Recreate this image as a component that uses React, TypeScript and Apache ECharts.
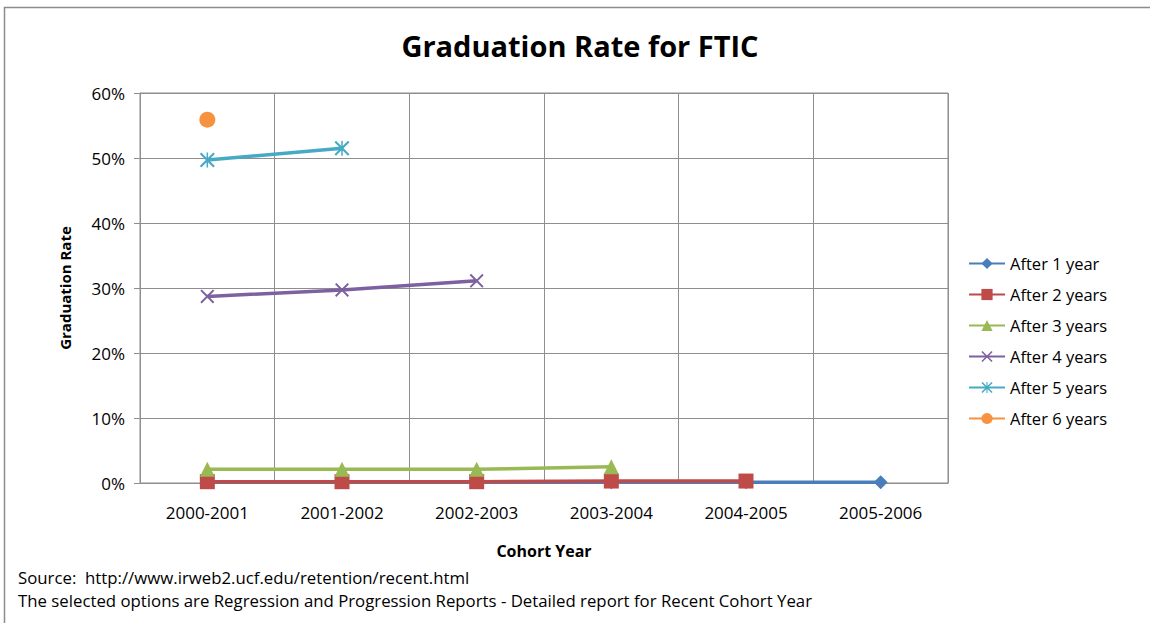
import React, { useEffect, useRef } from "react";
import * as echarts from "echarts";

// Cohort years on the category axis
const cohortYears = ["2000-2001", "2001-2002", "2002-2003", "2003-2004", "2004-2005", "2005-2006"];

// Graduation rate (%) for each cohort, by years elapsed
const after1Year = [0.1, 0.1, 0.1, 0.1, 0.1, 0.1];
const after2Years = [0.2, 0.2, 0.2, 0.3, 0.3, null];
const after3Years = [2.1, 2.1, 2.1, 2.5, null, null];
const after4Years = [28.7, 29.7, 31.1, null, null, null];
const after5Years = [49.7, 51.5, null, null, null, null];
const after6Years = [55.9, null, null, null, null, null];

const seriesNames = ["After 1 year", "After 2 years", "After 3 years", "After 4 years", "After 5 years", "After 6 years"];

const sourceLines = [
  "Source:  http://www.irweb2.ucf.edu/retention/recent.html",
  "The selected options are Regression and Progression Reports - Detailed report for Recent Cohort Year",
];

const FONT = "'Open Sans', 'Liberation Sans', sans-serif";

// thin "x" marker and asterisk marker (x plus vertical bar)
const CROSS_PATH =
  "path://M0,1 L1,0 L5,4 L9,0 L10,1 L6,5 L10,9 L9,10 L5,6 L1,10 L0,9 L4,5 Z";
const STAR_PATH =
  "path://M0,1 L1,0 L5,4 L9,0 L10,1 L6,5 L10,9 L9,10 L5,6 L1,10 L0,9 L4,5 Z M4.5,0 L5.5,0 L5.5,10 L4.5,10 Z";

export default function App() {
  const ref = useRef<HTMLDivElement>(null);

  useEffect(() => {
    if (!ref.current) return;
    const chart = echarts.init(ref.current, undefined, { renderer: "svg" });

    const lineSeries = (
      name: string,
      data: (number | null)[],
      color: string,
      symbol: string,
      symbolSize: number | number[]
    ) => ({
      name,
      type: "line",
      data,
      symbol,
      symbolSize,
      showSymbol: true,
      lineStyle: { color, width: 3.5 },
      itemStyle: { color, borderWidth: 0 },
      emphasis: { disabled: true },
      z: 3,
    });

    chart.setOption({
      animation: false,
      textStyle: { fontFamily: FONT },
      grid: {
        left: 140,
        top: 93,
        right: 202,
        bottom: 140,
        show: true,
        borderColor: "#8e8e8e",
        borderWidth: 1,
      },
      legend: {
        orient: "vertical",
        left: 968,
        top: 255,
        padding: 0,
        itemWidth: 36,
        itemHeight: 14,
        itemGap: 14,
        data: seriesNames,
        textStyle: { fontSize: 16.5, color: "#000", fontFamily: FONT },
      },
      xAxis: {
        type: "category",
        data: cohortYears,
        name: "Cohort Year",
        nameLocation: "middle",
        nameGap: 60,
        nameTextStyle: { fontSize: 16, fontWeight: "bold", color: "#000", fontFamily: FONT },
        axisLine: { lineStyle: { color: "#8e8e8e", width: 1 } },
        axisTick: { show: false },
        axisLabel: { margin: 21, fontSize: 17, color: "#000", fontFamily: FONT },
        splitLine: { show: true, lineStyle: { color: "#8e8e8e", width: 1 } },
      },
      yAxis: {
        type: "value",
        min: 0,
        max: 60,
        interval: 10,
        name: "Graduation Rate",
        nameLocation: "middle",
        nameGap: 68,
        nameRotate: 90,
        nameTextStyle: { fontSize: 15, fontWeight: "bold", color: "#000", fontFamily: FONT },
        axisLine: { show: true, lineStyle: { color: "#8e8e8e", width: 1 } },
        axisTick: { show: true, length: 6, lineStyle: { color: "#8e8e8e" } },
        axisLabel: { formatter: "{value}%", margin: 15, fontSize: 17, color: "#000", fontFamily: FONT },
        splitLine: { show: true, lineStyle: { color: "#8e8e8e", width: 1 } },
      },
      series: [
        lineSeries(seriesNames[0], after1Year, "#4A7EBB", "diamond", 14),
        lineSeries(seriesNames[1], after2Years, "#BE4B48", "rect", 15),
        lineSeries(seriesNames[2], after3Years, "#98B954", "triangle", 15),
        lineSeries(seriesNames[3], after4Years, "#7D60A0", CROSS_PATH, 14),
        lineSeries(seriesNames[4], after5Years, "#46AAC5", STAR_PATH, 15),
        lineSeries(seriesNames[5], after6Years, "#F69240", "circle", 16),
      ],
      graphic: [
        {
          type: "rect",
          silent: true,
          shape: { x: 4.5, y: 7.5, width: 1300, height: 800 },
          style: { fill: "none", stroke: "#8c8c8c", lineWidth: 1.5 },
          z: 0,
        },
        {
          type: "text",
          x: 580,
          y: 45,
          style: {
            text: "Graduation Rate for FTIC",
            fontFamily: FONT,
            fontSize: 29,
            fontWeight: "bold",
            fill: "#000",
            align: "center",
            verticalAlign: "middle",
          },
        },
        ...sourceLines.map((t, i) => ({
          type: "text",
          x: 18,
          y: 577 + i * 23,
          style: {
            text: t,
            fontFamily: FONT,
            fontSize: 16.8,
            fill: "#000",
            align: "left",
            verticalAlign: "middle",
          },
        })),
      ],
    });

    return () => chart.dispose();
  }, []);

  return (
    <div
      ref={ref}
      style={{ position: "fixed", left: 0, top: 0, width: 1150, height: 623, background: "#fff" }}
    />
  );
}
